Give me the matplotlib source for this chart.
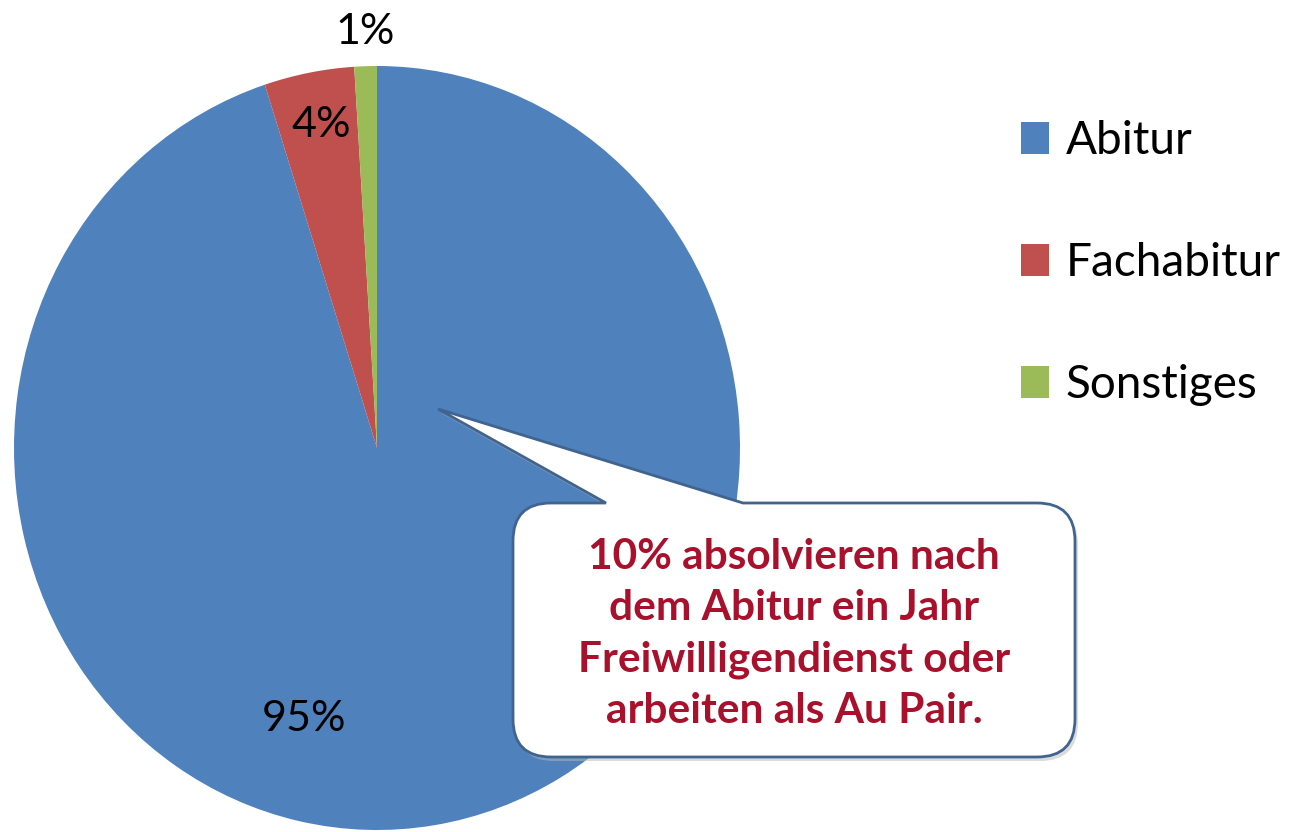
import matplotlib
matplotlib.use("Agg")
import matplotlib.pyplot as plt
from matplotlib.path import Path
from matplotlib.patches import PathPatch

labels = ["Abitur", "Fachabitur", "Sonstiges"]
shares = [95, 4, 1]
colors = ["#4F81BD", "#C0504D", "#9BBB59"]
note = "10% absolvieren nach\ndem Abitur ein Jahr\nFreiwilligendienst oder\narbeiten als Au Pair."

plt.rcParams["font.family"] = ["Lato", "DejaVu Sans"]

W, H = 1295, 832
fig = plt.figure(figsize=(W / 100, H / 100), dpi=100)

# pie axes (picture is slightly stretched vertically, so aspect is left free)
ax = fig.add_axes([14 / W, 2 / H, 726 / W, 764 / H])
wedges, texts, autotexts = ax.pie(shares, colors=colors, startangle=90, counterclock=False,
                                  autopct="%d%%", pctdistance=0.86,
                                  textprops={"fontsize": 31, "color": "black"})
ax.set_aspect("auto")
ax.set_xlim(-1, 1)
ax.set_ylim(-1, 1)
# data label spots as in the original
autotexts[0].set_position((-0.2, -0.71))
autotexts[1].set_position((-0.155, 0.845))
autotexts[2].set_position((-0.033, 1.09))
for t in autotexts:
    t.set_clip_on(False)

fig.legend(wedges, labels, loc="upper left", bbox_to_anchor=(1021 / W, 1 - 120 / H),
           frameon=False, fontsize=33, handlelength=0.6, handleheight=0.7,
           handletextpad=0.38, labelspacing=1.75, borderpad=0, borderaxespad=0)

# callout bubble in pixel coords
ov = fig.add_axes([0, 0, 1, 1], zorder=5)
ov.set_xlim(0, W)
ov.set_ylim(H, 0)
ov.axis("off")
L, R, T, B, r = 513, 1075, 503, 757, 38
tip = (438, 409)
bx1, bx2 = 606, 743
verts = [(L + r, T), (bx1, T), tip, (bx2, T), (R - r, T),
         (R, T), (R, T + r), (R, B - r),
         (R, B), (R - r, B), (L + r, B),
         (L, B), (L, B - r), (L, T + r),
         (L, T), (L + r, T), (L + r, T)]
codes = [Path.MOVETO, Path.LINETO, Path.LINETO, Path.LINETO, Path.LINETO,
         Path.CURVE3, Path.CURVE3, Path.LINETO,
         Path.CURVE3, Path.CURVE3, Path.LINETO,
         Path.CURVE3, Path.CURVE3, Path.LINETO,
         Path.CURVE3, Path.CURVE3, Path.CLOSEPOLY]
shadow = PathPatch(Path([(x + 3, y + 4) for x, y in verts], codes),
                   facecolor="#B8B8B8", edgecolor="none", alpha=0.5)
ov.add_patch(shadow)
bubble = PathPatch(Path(verts, codes), facecolor="white", edgecolor="#41648F", linewidth=2)
ov.add_patch(bubble)
ov.text((L + R) / 2, 634, note, ha="center", va="center", fontsize=30.5, fontweight="bold",
        color="#A8102C", linespacing=1.42)

fig.savefig("out.png", dpi=100)
